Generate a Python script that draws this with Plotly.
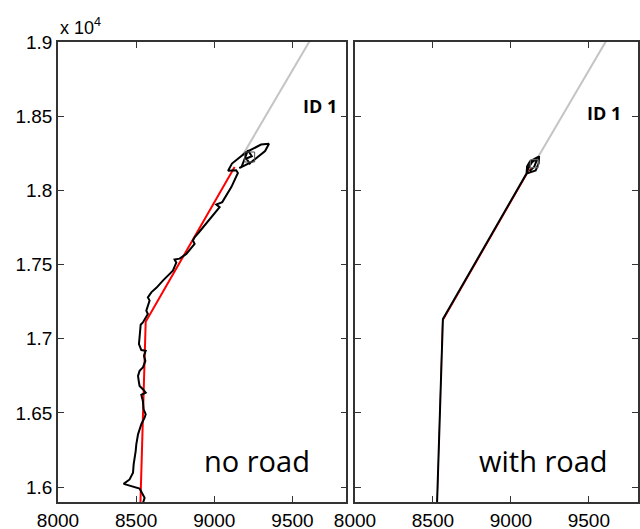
import plotly.graph_objects as go

# ---- data ----
track_noroad_x = [8543, 8554, 8540, 8522, 8420, 8458, 8480, 8484, 8497, 8501, 8512, 8533, 8554, 8561,
                  8548, 8543, 8533, 8561, 8543, 8522, 8518, 8512, 8522, 8543, 8559, 8550, 8561, 8533,
                  8518, 8522, 8529, 8543, 8575, 8565, 8586, 8575, 8597, 8631, 8671, 8735, 8757, 8746,
                  8778, 8821, 8874, 8863, 8874, 8902, 8981, 9034, 9013, 9051, 9109, 9141, 9151,
                  9140, 9088, 9113, 9200, 9299, 9350, 9325, 9239, 9160,
                  9175, 9215, 9240, 9205, 9230]
track_noroad_y = [15890, 15928, 15955, 15991, 16022, 16052, 16097, 16153, 16243, 16288, 16356, 16424, 16468, 16491,
                  16525, 16581, 16622, 16637, 16660, 16682, 16705, 16750, 16784, 16806, 16851, 16885, 16919, 16924,
                  16964, 17032, 17095, 17110, 17167, 17189, 17257, 17279, 17313, 17345, 17392, 17459, 17513, 17534,
                  17540, 17572, 17640, 17662, 17684, 17718, 17820, 17887, 17905, 17921, 18022, 18090, 18117,
                  18136, 18132, 18181, 18254, 18309, 18314, 18265, 18192, 18150,
                  18160, 18270, 18230, 18215, 18175]
true_x = [8527, 8561, 9130]
true_y = [15880, 17115, 18157]
road_x = [9180, 9640]
road_y = [18235, 19060]
track_road_x = [8526, 8564, 9100, 9104, 9123, 9181, 9178, 9159, 9100, 9112, 9135, 9170, 9150, 9120]
track_road_y = [15880, 17133, 18113, 18163, 18197, 18230, 18182, 18134, 18113, 18150, 18190, 18215, 18160, 18130]
start_left = (9226, 18225)
start_right = (9150, 18180)
ytick_vals = [16000, 16500, 17000, 17500, 18000, 18500, 19000]
ytick_text = ["1.6", "1.65", "1.7", "1.75", "1.8", "1.85", "1.9"]
xtick_vals = [8000, 8500, 9000, 9500]

fig = go.Figure()
# left panel
fig.add_trace(go.Scatter(x=road_x, y=road_y, mode="lines", line=dict(color="#c4c4c4", width=2),
                         xaxis="x", yaxis="y", showlegend=False))
fig.add_trace(go.Scatter(x=true_x, y=true_y, mode="lines", line=dict(color="#ff0000", width=2),
                         xaxis="x", yaxis="y", showlegend=False))
fig.add_trace(go.Scatter(x=track_noroad_x, y=track_noroad_y, mode="lines", line=dict(color="black", width=2),
                         xaxis="x", yaxis="y", showlegend=False))
fig.add_trace(go.Scatter(x=[start_left[0]], y=[start_left[1]], mode="markers",
                         marker=dict(symbol="square-open", size=10, color="#555555", line=dict(width=1)),
                         xaxis="x", yaxis="y", showlegend=False))
# right panel
fig.add_trace(go.Scatter(x=road_x, y=road_y, mode="lines", line=dict(color="#c4c4c4", width=2),
                         xaxis="x2", yaxis="y2", showlegend=False))
fig.add_trace(go.Scatter(x=true_x, y=true_y, mode="lines", line=dict(color="#ff0000", width=1),
                         xaxis="x2", yaxis="y2", showlegend=False))
fig.add_trace(go.Scatter(x=track_road_x, y=track_road_y, mode="lines", line=dict(color="black", width=2),
                         xaxis="x2", yaxis="y2", showlegend=False))
fig.add_trace(go.Scatter(x=[start_right[0]], y=[start_right[1]], mode="markers",
                         marker=dict(symbol="square-open", size=8, color="#777777", line=dict(width=1)),
                         xaxis="x2", yaxis="y2", showlegend=False))

tickfont = dict(family="Liberation Sans, Arial, sans-serif", size=19, color="black")
axcommon = dict(showgrid=False, zeroline=False, showline=True, linecolor="#333333", linewidth=1.5,
                mirror="ticks", ticks="inside", ticklen=6, tickcolor="#333333", tickwidth=1.2,
                tickfont=tickfont, automargin=False)
fig.update_layout(
    width=640, height=529,
    margin=dict(l=58, r=2, t=42, b=27),
    plot_bgcolor="white", paper_bgcolor="white",
    xaxis=dict(domain=[0, 0.4972], range=[8000, 9845], tickvals=xtick_vals, anchor="y", **axcommon),
    yaxis=dict(domain=[0, 1], range=[15900, 19000], tickvals=ytick_vals, ticktext=ytick_text,
               anchor="x", **axcommon),
    xaxis2=dict(domain=[0.512, 1], range=[8000, 9815], tickvals=xtick_vals, anchor="y2", **axcommon),
    yaxis2=dict(domain=[0, 1], range=[15900, 19000], tickvals=ytick_vals, showticklabels=False,
                anchor="x2", **axcommon),
    annotations=[
        dict(text="x 10<sup>4</sup>", xref="paper", yref="paper", x=0, y=1, xanchor="left",
             yanchor="bottom", yshift=2, showarrow=False,
             font=dict(family="Liberation Sans, Arial, sans-serif", size=18, color="black")),
        dict(text="no road", xref="x", yref="y", x=9270, y=16182, showarrow=False,
             font=dict(family="Open Sans, sans-serif", size=29, color="black")),
        dict(text="with road", xref="x2", yref="y2", x=9211, y=16182, showarrow=False,
             font=dict(family="Open Sans, sans-serif", size=29, color="black")),
        dict(text="<b>ID 1</b>", xref="x", yref="y", x=9797, y=18568, xanchor="right", showarrow=False,
             font=dict(family="Open Sans, sans-serif", size=18, color="black")),
        dict(text="<b>ID 1</b>", xref="x2", yref="y2", x=9721, y=18520, xanchor="right", showarrow=False,
             font=dict(family="Open Sans, sans-serif", size=18, color="black")),
    ],
)
fig.write_html("out.html", config={"displayModeBar": False},
               post_script="document.body.style.margin='0';document.body.style.padding='0';")
